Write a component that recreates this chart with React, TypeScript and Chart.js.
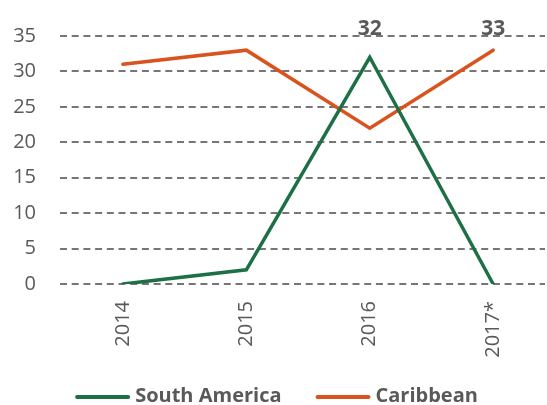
import React, { useEffect, useRef } from "react";
import { Chart, registerables } from "chart.js";

Chart.register(...registerables);

const categories = ["2014", "2015", "2016", "2017*"];
const southAmerica = [0, 2, 32, 0];
const caribbean = [31, 33, 22, 33];
const yTicks = [0, 5, 10, 15, 20, 25, 30, 35];
const seriesNames = ["South America", "Caribbean"];
// labelled points: [seriesIndex, categoryIndex]
const labelledPoints: [number, number][] = [
  [0, 2],
  [1, 3],
];

const GREEN = "#1d7045";
const ORANGE = "#d9531e";
const TEXT = "#595959";
const FONT = "'Open Sans', 'DejaVu Sans', sans-serif";

export default function App() {
  const ref = useRef<HTMLCanvasElement | null>(null);

  useEffect(() => {
    document.body.style.margin = "0";
    const canvas = ref.current;
    if (!canvas) return;
    const seriesData = [southAmerica, caribbean];

    const extras = {
      id: "extras",
      afterDatasetsDraw(chart: any) {
        const ctx = chart.ctx;
        const xs = chart.scales.x;
        const area = chart.chartArea;
        ctx.save();
        // data labels
        ctx.font = `bold 21px ${FONT}`;
        ctx.fillStyle = TEXT;
        ctx.textAlign = "center";
        ctx.textBaseline = "middle";
        for (const [s, i] of labelledPoints) {
          const x = xs.getPixelForValue(i);
          ctx.fillText(String(seriesData[s][i]), x, area.top - 7);
        }
        // legend
        const colors = [GREEN, ORANGE];
        ctx.font = `bold 20px ${FONT}`;
        const lineLen = 55;
        const gapText = 5;
        const gapItem = 34;
        const widths = seriesNames.map((n) => ctx.measureText(n).width);
        const total =
          widths.reduce((a, b) => a + b, 0) +
          seriesNames.length * (lineLen + gapText) +
          gapItem * (seriesNames.length - 1);
        let x = 276.5 - total / 2;
        const y = 397;
        ctx.textAlign = "left";
        seriesNames.forEach((n, k) => {
          ctx.strokeStyle = colors[k];
          ctx.lineWidth = 4;
          ctx.lineCap = "round";
          ctx.beginPath();
          ctx.moveTo(x + 2, y);
          ctx.lineTo(x + lineLen - 2, y);
          ctx.stroke();
          ctx.fillStyle = TEXT;
          ctx.fillText(n, x + lineLen + gapText, y - 1);
          x += lineLen + gapText + widths[k] + gapItem;
        });
        ctx.restore();
      },
    };

    const chart = new Chart(canvas, {
      type: "line",
      data: {
        datasets: [
          {
            label: seriesNames[0],
            data: southAmerica.map((v, i) => ({ x: i, y: v })),
            borderColor: GREEN,
            backgroundColor: GREEN,
            borderWidth: 3.5,
            borderCapStyle: "round",
            borderJoinStyle: "miter",
            pointRadius: 0,
            tension: 0,
          },
          {
            label: seriesNames[1],
            data: caribbean.map((v, i) => ({ x: i, y: v })),
            borderColor: ORANGE,
            backgroundColor: ORANGE,
            borderWidth: 3.5,
            borderCapStyle: "round",
            borderJoinStyle: "miter",
            pointRadius: 0,
            tension: 0,
          },
        ],
      },
      options: {
        animation: false,
        responsive: false,
        devicePixelRatio: 1,
        layout: { padding: { top: 32, right: 2, left: 0, bottom: 0 } },
        plugins: {
          legend: { display: false },
          tooltip: { enabled: false },
        },
        scales: {
          x: {
            type: "linear",
            min: -0.51,
            max: 3.42,
            grid: { display: false, drawTicks: false },
            border: { display: false },
            afterBuildTicks: (scale: any) => {
              scale.ticks = categories.map((_, i) => ({ value: i }));
            },
            afterFit: (scale: any) => {
              scale.height = 121;
            },
            ticks: {
              autoSkip: false,
              maxRotation: 90,
              minRotation: 90,
              padding: 17,
              color: TEXT,
              font: { family: FONT, size: 20 },
              callback: (v: any) => categories[Math.round(Number(v))] ?? "",
            },
          },
          y: {
            min: 0,
            max: 35,
            afterBuildTicks: (scale: any) => {
              scale.ticks = yTicks.map((v) => ({ value: v }));
            },
            afterFit: (scale: any) => {
              scale.width = 60;
            },
            grid: {
              color: "#767676",
              lineWidth: 2,
              drawTicks: false,
            },
            border: { display: false, dash: [7, 4.7] },
            ticks: {
              padding: 24,
              color: TEXT,
              font: { family: FONT, size: 20 },
            },
          },
        },
      },
      plugins: [extras],
    } as any);

    return () => chart.destroy();
  }, []);

  return (
    <div style={{ width: 547, height: 405, overflow: "hidden" }}>
      <canvas ref={ref} width={547} height={405} style={{ display: "block" }} />
    </div>
  );
}
